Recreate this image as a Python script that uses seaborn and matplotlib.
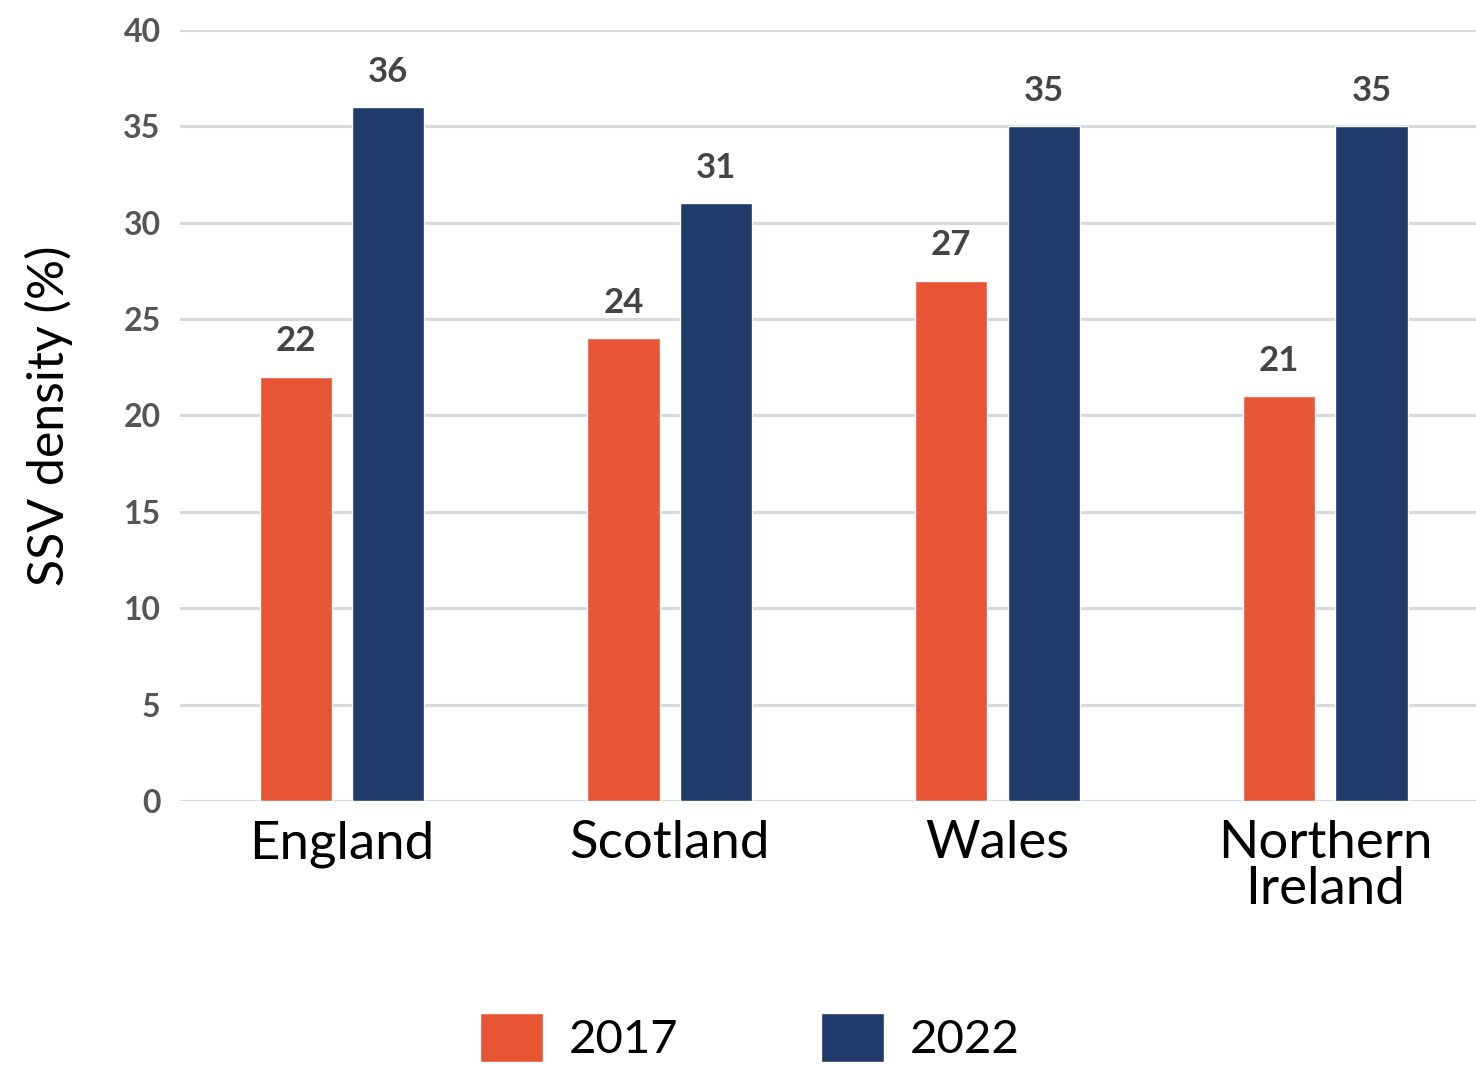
import pandas as pd
import seaborn as sns
import matplotlib.pyplot as plt

regions = ["England", "Scotland", "Wales", "Northern\nIreland"]
years = ["2017", "2022"]
density_2017 = [22, 24, 27, 21]
density_2022 = [36, 31, 35, 35]
colours = {"2017": "#E85535", "2022": "#1F3A6B"}

df = pd.DataFrame({
    "region": regions * 2,
    "year": [years[0]] * 4 + [years[1]] * 4,
    "density": density_2017 + density_2022,
})

sns.set_style("white")
plt.rcParams["font.family"] = ["Lato", "DejaVu Sans"]
plt.rcParams["text.color"] = "black"

fig = plt.figure(figsize=(14.76, 10.66), dpi=100)
ax = fig.add_axes([0.122, 0.2486, 0.878, 0.7233])

sns.barplot(data=df, x="region", y="density", hue="year", palette=colours,
            width=0.565, gap=0.22, saturation=1, ax=ax, legend=True)

for c in ax.containers:
    ax.bar_label(c, fmt="%d", padding=14, fontsize=25, fontweight="bold", color="#444444")

ax.set_ylim(0, 40)
ax.set_xlim(-0.494, 3.46)
ax.set_yticks(range(0, 41, 5))
ax.grid(axis="y", color="#d9d9d9", linewidth=2.2)
ax.set_axisbelow(True)
for s in ax.spines.values():
    s.set_visible(False)
ax.tick_params(axis="y", length=0, pad=14, labelsize=23, labelcolor="#555555")
ax.tick_params(axis="x", length=0, pad=14, labelsize=38, labelcolor="black")
for t in ax.get_yticklabels():
    t.set_fontweight("bold")
for t in ax.get_xticklabels():
    t.set_linespacing(0.95)
ax.set_xlabel("")
ax.set_ylabel("SSV density (%)", fontsize=36, color="black")
ax.yaxis.set_label_coords(-0.083, 0.5)

handles, labels = ax.get_legend_handles_labels()
ax.get_legend().remove()
fig.legend(handles, labels, loc="lower center", bbox_to_anchor=(0.508, -0.036),
           ncol=2, frameon=False, handlelength=1.34, handleheight=1.23,
           handletextpad=0.55, columnspacing=3.0, prop={"size": 34})

fig.savefig("out.png", dpi=100)
